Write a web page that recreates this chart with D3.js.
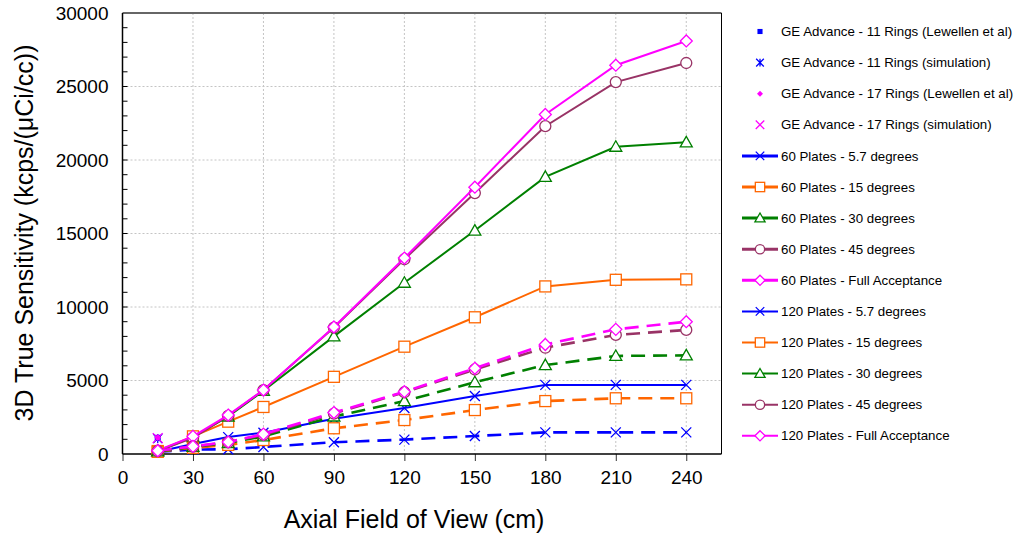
<!DOCTYPE html>
<html><head><meta charset="utf-8">
<script src="https://cdn.jsdelivr.net/npm/d3@7/dist/d3.min.js"></script>
<style>body{margin:0;background:#fff}svg{display:block;font-family:"Liberation Sans",Arial,sans-serif}</style>
</head><body><svg id="c" width="1017" height="535"></svg>
<script>
const fov = [15, 30, 45, 60, 90, 120, 150, 180, 210, 240];
const geFov = [15];
const ge11Lewellen = [1100];
const ge11Sim = [1050];
const ge17Lewellen = [1130];
const ge17Sim = [1080];
const p60_57 = [150, 680, 1150, 1450, 2400, 3130, 3950, 4700, 4700, 4700];
const p60_15 = [200, 1200, 2200, 3200, 5250, 7300, 9300, 11400, 11850, 11880];
const p60_30 = [200, 1150, 2550, 4300, 8000, 11650, 15200, 18850, 20900, 21200];
const p60_45 = [200, 1100, 2600, 4350, 8600, 13250, 17750, 22300, 25300, 26600];
const p60_full = [250, 1200, 2650, 4350, 8640, 13330, 18150, 23100, 26450, 28100];
const p120_57 = [150, 300, 320, 480, 800, 980, 1220, 1470, 1470, 1470];
const p120_15 = [150, 420, 620, 950, 1750, 2310, 2990, 3600, 3790, 3790];
const p120_30 = [180, 480, 750, 1200, 2550, 3600, 4880, 6050, 6670, 6710];
const p120_45 = [200, 500, 800, 1300, 2750, 4200, 5750, 7230, 8100, 8440];
const p120_full = [220, 520, 820, 1350, 2820, 4240, 5830, 7450, 8480, 9000];
const xTicks = [0, 30, 60, 90, 120, 150, 180, 210, 240];
const yTicks = [0, 5000, 10000, 15000, 20000, 25000, 30000];
const xTitle = "Axial Field of View (cm)";
const yTitle = "3D True Sensitivity (kcps/(μCi/cc))";

const BLUE = "#0000ff", ORANGE = "#ff6600", GREEN = "#008000", PURPLE = "#993366", MAGENTA = "#ff00ff";

const points = [
  {name: "GE Advance - 11 Rings (Lewellen et al)", xs: geFov, ys: ge11Lewellen, color: BLUE, marker: "fsquare", line: null},
  {name: "GE Advance - 11 Rings (simulation)", xs: geFov, ys: ge11Sim, color: BLUE, marker: "star", line: null},
  {name: "GE Advance - 17 Rings (Lewellen et al)", xs: geFov, ys: ge17Lewellen, color: MAGENTA, marker: "fdiamond", line: null},
  {name: "GE Advance - 17 Rings (simulation)", xs: geFov, ys: ge17Sim, color: MAGENTA, marker: "x", line: null},
  {name: "60 Plates - 5.7 degrees", xs: fov, ys: p60_57, color: BLUE, marker: "x", line: "solid"},
  {name: "60 Plates - 15 degrees", xs: fov, ys: p60_15, color: ORANGE, marker: "square", line: "solid"},
  {name: "60 Plates - 30 degrees", xs: fov, ys: p60_30, color: GREEN, marker: "triangle", line: "solid"},
  {name: "60 Plates - 45 degrees", xs: fov, ys: p60_45, color: PURPLE, marker: "circle", line: "solid"},
  {name: "60 Plates - Full Acceptance", xs: fov, ys: p60_full, color: MAGENTA, marker: "diamond", line: "solid"},
  {name: "120 Plates - 5.7 degrees", xs: fov, ys: p120_57, color: BLUE, marker: "x", line: "dash"},
  {name: "120 Plates - 15 degrees", xs: fov, ys: p120_15, color: ORANGE, marker: "square", line: "dash"},
  {name: "120 Plates - 30 degrees", xs: fov, ys: p120_30, color: GREEN, marker: "triangle", line: "dash"},
  {name: "120 Plates - 45 degrees", xs: fov, ys: p120_45, color: PURPLE, marker: "circle", line: "dash"},
  {name: "120 Plates - Full Acceptance", xs: fov, ys: p120_full, color: MAGENTA, marker: "diamond", line: "dash"}
];

const svg = d3.select("#c");
const L = 122.5, R = 721.5, T = 13, B = 454;
const x = d3.scaleLinear().domain([0, 255]).range([L, R]);
const y = d3.scaleLinear().domain([0, 30000]).range([B, T]);

// gridlines
const grid = svg.append("g");
grid.selectAll("line.gx").data(xTicks.filter(d => d > 0)).join("line")
  .attr("x1", d => x(d)).attr("x2", d => x(d)).attr("y1", T).attr("y2", B)
  .attr("stroke", "#c4c4c4").attr("stroke-dasharray", "2,2").attr("stroke-width", 1);
grid.selectAll("line.gy").data(yTicks.filter(d => d > 0 && d < 30000)).join("line")
  .attr("x1", L).attr("x2", R).attr("y1", d => y(d)).attr("y2", d => y(d))
  .attr("stroke", "#c4c4c4").attr("stroke-dasharray", "2,2").attr("stroke-width", 1);

// axes
const xAxis = d3.axisBottom(x).tickValues(xTicks).tickSize(7).tickPadding(10).tickFormat(d3.format("d"));
const gx = svg.append("g").attr("transform", `translate(0,${B})`).call(xAxis);
gx.select(".domain").remove();
gx.selectAll("text").attr("font-size", 19).attr("fill", "#000").attr("font-family", "Liberation Sans, Arial, sans-serif");
gx.selectAll("line").attr("stroke", "#333");

const yAxis = d3.axisLeft(y).tickValues(yTicks).tickSize(0).tickPadding(14).tickFormat(d3.format("d"));
const gy = svg.append("g").attr("transform", `translate(${L},0)`).call(yAxis);
gy.select(".domain").remove();
gy.selectAll("text").attr("font-size", 19).attr("fill", "#000").attr("font-family", "Liberation Sans, Arial, sans-serif");

// minor y ticks (inside)
svg.append("g").selectAll("line").data(d3.range(1000, 30000, 1000)).join("line")
  .attr("x1", L).attr("x2", L + 5).attr("y1", d => y(d)).attr("y2", d => y(d))
  .attr("stroke", "#000").attr("stroke-width", 1);

// frame
svg.append("line").attr("x1", L).attr("x2", R).attr("y1", T).attr("y2", T).attr("stroke", "#666").attr("stroke-width", 2);
svg.append("line").attr("x1", R).attr("x2", R).attr("y1", T).attr("y2", B).attr("stroke", "#000").attr("stroke-width", 1);
svg.append("line").attr("x1", L).attr("x2", R).attr("y1", B).attr("y2", B).attr("stroke", "#000").attr("stroke-width", 1.5);
svg.append("line").attr("x1", L).attr("x2", L).attr("y1", T).attr("y2", B).attr("stroke", "#000").attr("stroke-width", 1.5);

// titles
svg.append("text").attr("x", 414).attr("y", 528).attr("text-anchor", "middle")
  .attr("font-size", 25).attr("fill", "#000").text(xTitle);
svg.append("text").attr("transform", "translate(33,233) rotate(-90)").attr("text-anchor", "middle")
  .attr("font-size", 25).attr("fill", "#000").text(yTitle);

function drawMarker(g, type, cx, cy, color, scale) {
  const s = scale || 1;
  if (type === "fsquare") {
    const h = 3 * s;
    g.append("rect").attr("x", cx - h).attr("y", cy - h).attr("width", 2 * h).attr("height", 2 * h).attr("fill", color);
  } else if (type === "fdiamond") {
    const h = 3.5 * s;
    g.append("path").attr("d", `M${cx},${cy - h}L${cx + h},${cy}L${cx},${cy + h}L${cx - h},${cy}Z`).attr("fill", color);
  } else if (type === "star") {
    const h = 4.5 * s;
    g.append("path").attr("d", `M${cx - h},${cy - h}L${cx + h},${cy + h}M${cx + h},${cy - h}L${cx - h},${cy + h}M${cx},${cy - h}L${cx},${cy + h}`)
      .attr("stroke", color).attr("stroke-width", 1.3).attr("fill", "none");
  } else if (type === "x") {
    const h = 5 * s;
    g.append("path").attr("d", `M${cx - h},${cy - h}L${cx + h},${cy + h}M${cx + h},${cy - h}L${cx - h},${cy + h}`)
      .attr("stroke", color).attr("stroke-width", 1.3).attr("fill", "none");
  } else if (type === "square") {
    const h = 5.5 * s;
    g.append("rect").attr("x", cx - h).attr("y", cy - h).attr("width", 2 * h).attr("height", 2 * h)
      .attr("fill", "#fff").attr("stroke", color).attr("stroke-width", 1.3);
  } else if (type === "triangle") {
    const h = 6 * s;
    g.append("path").attr("d", `M${cx},${cy - h}L${cx + h},${cy + h * 0.75}L${cx - h},${cy + h * 0.75}Z`)
      .attr("fill", "#fff").attr("stroke", color).attr("stroke-width", 1.3);
  } else if (type === "circle") {
    g.append("circle").attr("cx", cx).attr("cy", cy).attr("r", 5.5 * s)
      .attr("fill", "#fff").attr("stroke", color).attr("stroke-width", 1.3);
  } else if (type === "diamond") {
    const h = 6 * s;
    g.append("path").attr("d", `M${cx},${cy - h}L${cx + h},${cy}L${cx},${cy + h}L${cx - h},${cy}Z`)
      .attr("fill", "#fff").attr("stroke", color).attr("stroke-width", 1.3);
  }
}

const plot = svg.append("g");
const lineGen = d3.line().x(d => x(d[0])).y(d => y(d[1]));
points.forEach(s => {
  const g = plot.append("g");
  const data = s.xs.map((v, i) => [v, s.ys[i]]);
  if (s.line) {
    g.append("path").attr("d", lineGen(data)).attr("fill", "none").attr("stroke", s.color)
      .attr("stroke-width", s.line === "dash" ? 2.6 : 2)
      .attr("stroke-dasharray", s.line === "dash" ? "14,8" : null);
  }
  data.forEach(d => drawMarker(g, s.marker, x(d[0]), y(d[1]), s.color));
});

// legend
const leg = svg.append("g");
points.forEach((s, i) => {
  const cy = 31.5 + i * 31.1;
  const g = leg.append("g");
  if (s.line) {
    g.append("line").attr("x1", 742).attr("x2", 778).attr("y1", cy).attr("y2", cy)
      .attr("stroke", s.color).attr("stroke-width", s.line === "dash" ? 2 : 3);
  }
  drawMarker(g, s.marker, 760, cy, s.color, s.line ? 0.85 : 0.85);
  g.append("text").attr("x", 781).attr("y", cy).attr("dy", "0.35em").attr("font-size", 13.3)
    .attr("fill", "#000").text(s.name);
});
</script></body></html>
